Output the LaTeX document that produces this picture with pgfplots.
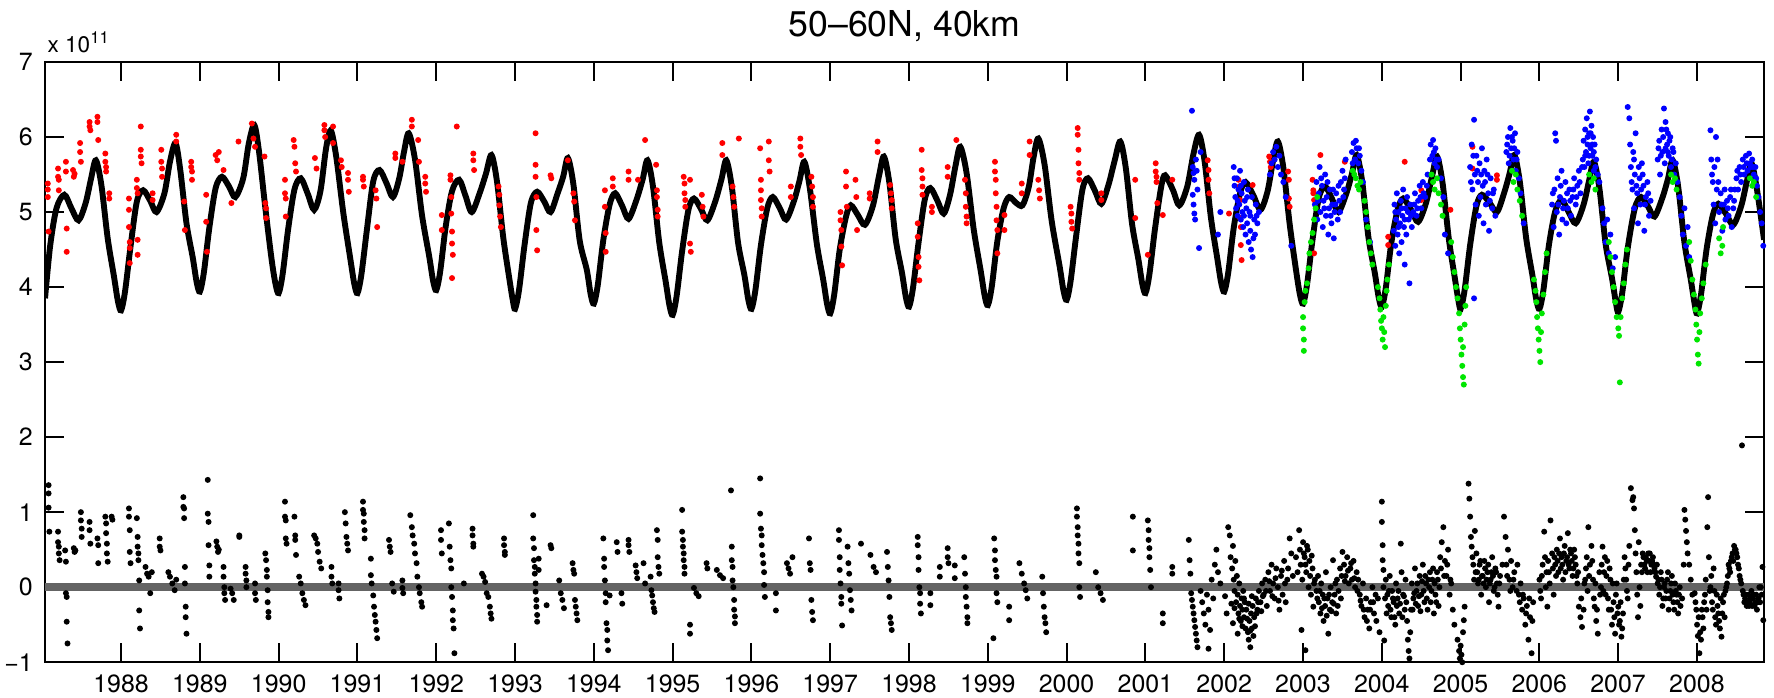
\documentclass[border=0pt]{standalone}
\usepackage{fontspec}
\setmainfont{TeX Gyre Heros}
\usepackage{pgfplots}
\pgfplotsset{compat=1.18}
\definecolor{zeroline}{RGB}{100,100,100}
\definecolor{mred}{RGB}{255,0,0}
\definecolor{mblue}{RGB}{0,0,255}
\definecolor{mgreen}{RGB}{0,230,0}
\begin{document}
\begin{tikzpicture}
\begin{axis}[
    name=ax,
    scale only axis,
    width=17.44cm, height=6.09cm,
    xmin=1987.035, xmax=2008.85,
    ymin=-1, ymax=7,
    xtick={1988,1989,...,2008},
    ytick={-1,0,...,7},
    yticklabels={−1,0,1,2,3,4,5,6,7},
    /pgf/number format/assume math mode=true,
    /pgf/number format/1000 sep={},
    tick align=inside, tick pos=both,
    major tick length=0.19cm,
    axis line style={line width=0.6pt},
    every tick/.style={black, line width=0.6pt},
    tick label style={font=\fontsize{7.2}{8.5}\selectfont},
]

% red points
\addplot[only marks, mark=*, mark size=0.65pt, mred] coordinates {
(1987.07,5.38)(1987.07,5.30)(1987.07,5.20)(1987.08,4.74)
(1987.20,5.58)(1987.20,5.47)(1987.21,5.43)(1987.21,5.29)
(1987.30,5.67)(1987.30,5.54)(1987.31,4.78)(1987.31,4.47)
(1987.39,5.56)(1987.40,5.47)(1987.41,5.51)
(1987.48,5.92)(1987.48,5.80)(1987.49,5.67)
(1987.60,6.20)(1987.60,6.14)(1987.61,6.09)
(1987.70,6.27)(1987.70,6.20)(1987.71,5.96)
(1987.80,5.78)(1987.80,5.67)(1987.81,5.60)(1987.81,5.54)
(1987.85,5.25)(1987.85,5.18)
(1988.10,5.18)(1988.10,5.03)(1988.10,4.80)(1988.11,4.60)(1988.11,4.52)(1988.11,4.32)
(1988.20,5.43)(1988.20,5.32)(1988.21,5.25)(1988.21,4.63)(1988.21,4.43)
(1988.25,6.14)(1988.25,5.83)(1988.25,5.74)(1988.26,5.65)
(1988.40,5.25)(1988.40,5.16)
(1988.51,5.83)(1988.51,5.67)(1988.52,5.58)(1988.52,5.47)
(1988.70,6.03)(1988.70,5.94)
(1988.80,5.14)(1988.81,4.76)
(1988.89,5.67)(1988.89,5.60)(1988.90,5.54)(1988.90,5.43)
(1989.08,5.23)(1989.08,4.87)(1989.09,4.47)
(1989.20,5.76)(1989.22,5.69)(1989.24,5.80)
(1989.30,5.56)(1989.40,5.12)(1989.49,5.94)
(1989.66,6.18)(1989.68,5.98)(1989.70,5.87)
(1989.82,5.74)(1989.83,5.12)(1989.84,5.05)(1989.84,4.92)
(1990.08,5.43)(1990.08,5.25)(1990.09,5.18)(1990.09,4.94)
(1990.19,5.96)(1990.20,5.87)(1990.21,5.65)(1990.22,5.54)
(1990.46,5.72)(1990.48,5.58)
(1990.58,6.16)(1990.58,6.09)(1990.59,6.00)
(1990.69,6.14)(1990.69,5.92)
(1990.79,5.69)(1990.80,5.60)
(1990.88,5.52)(1990.88,5.43)(1990.89,5.27)
(1991.07,5.47)(1991.07,5.43)(1991.08,5.34)
(1991.23,5.29)(1991.24,5.18)(1991.25,4.80)
(1991.48,5.78)(1991.48,5.72)(1991.57,5.67)
(1991.69,6.23)(1991.69,6.14)
(1991.77,5.96)(1991.78,5.67)
(1991.86,5.47)(1991.86,5.38)(1991.87,5.27)
(1992.07,4.96)(1992.07,4.76)
(1992.18,5.49)(1992.18,5.43)(1992.19,5.20)(1992.19,4.98)(1992.20,4.74)(1992.20,4.58)(1992.21,4.43)(1992.20,4.12)
(1992.26,6.14)
(1992.47,5.78)(1992.47,5.69)(1992.48,5.56)
(1992.79,5.34)(1992.80,5.23)(1992.80,5.09)(1992.81,4.94)(1992.82,4.80)
(1993.26,6.05)(1993.26,5.63)(1993.26,5.47)(1993.27,5.20)(1993.27,4.76)(1993.28,4.49)
(1993.45,5.49)(1993.46,5.45)
(1993.67,5.69)
(1993.74,5.25)(1993.75,5.14)(1993.76,4.89)
(1994.14,5.29)(1994.14,5.07)(1994.15,4.72)(1994.15,4.47)
(1994.24,5.45)(1994.24,5.34)
(1994.44,5.54)(1994.44,5.43)(1994.56,5.43)(1994.65,5.96)
(1994.79,5.63)(1994.80,5.29)(1994.80,5.20)(1994.81,5.03)(1994.81,4.94)
(1995.14,5.47)(1995.15,5.38)(1995.15,5.25)(1995.16,5.16)(1995.16,5.07)
(1995.22,5.43)(1995.22,4.58)(1995.23,4.47)
(1995.37,5.23)(1995.38,5.07)(1995.39,4.94)
(1995.63,5.92)(1995.63,5.76)
(1995.76,5.34)(1995.77,5.20)(1995.78,5.07)
(1995.84,5.98)
(1996.11,5.85)(1996.12,5.43)(1996.12,5.29)(1996.12,5.16)(1996.13,5.05)(1996.13,4.94)
(1996.22,5.94)(1996.22,5.69)(1996.23,5.54)
(1996.50,5.34)(1996.50,5.20)
(1996.62,5.98)(1996.62,5.87)(1996.63,5.76)
(1996.76,5.47)(1996.77,5.34)(1996.78,5.20)(1996.78,5.07)
(1997.13,5.00)(1997.13,4.89)(1997.14,4.76)(1997.14,4.54)(1997.15,4.29)
(1997.20,5.54)(1997.20,5.34)(1997.21,5.07)
(1997.32,5.43)(1997.33,5.20)(1997.34,4.76)
(1997.50,5.25)(1997.50,5.18)
(1997.60,5.94)(1997.60,5.80)
(1997.76,5.36)(1997.77,5.25)(1997.78,5.16)(1997.78,5.05)
(1998.11,4.85)(1998.11,4.67)(1998.12,4.40)(1998.12,4.27)(1998.13,4.09)
(1998.16,5.83)(1998.16,5.56)(1998.17,5.45)(1998.17,5.34)(1998.17,5.23)
(1998.29,5.07)(1998.29,5.00)
(1998.49,5.60)(1998.49,5.47)
(1998.60,5.96)
(1998.71,5.43)(1998.72,5.25)(1998.72,5.07)(1998.73,4.94)(1998.73,4.85)
(1999.09,5.67)(1999.09,5.54)(1999.10,5.43)(1999.10,5.25)(1999.11,5.07)(1999.11,4.89)(1999.12,4.76)(1999.12,4.45)
(1999.21,4.96)(1999.21,4.76)
(1999.43,5.38)(1999.43,5.25)
(1999.53,5.94)(1999.53,5.76)
(1999.64,5.43)(1999.65,5.29)(1999.66,5.18)
(2000.05,5.07)(2000.06,4.98)(2000.06,4.87)(2000.07,4.78)
(2000.14,6.12)(2000.14,6.03)(2000.15,5.83)(2000.15,5.65)(2000.16,5.52)(2000.16,5.43)
(2000.44,5.25)(2000.44,5.16)
(2000.87,5.43)(2000.87,4.92)
(2001.03,4.43)
(2001.13,5.65)(2001.13,5.54)(2001.14,5.47)(2001.14,5.40)(2001.15,5.12)
(2001.22,4.96)(2001.34,5.43)
(2001.79,5.69)(2001.80,5.56)(2001.80,5.43)(2001.81,5.25)
(2002.06,4.98)
(2002.18,5.43)(2002.19,5.34)(2002.20,5.16)(2002.20,4.92)(2002.21,4.80)(2002.21,4.56)(2002.22,4.36)
(2002.36,5.36)
(2002.57,5.74)(2002.58,5.67)(2002.59,5.60)
(2002.81,5.54)(2002.82,5.43)(2002.82,5.18)(2002.83,5.07)
(2003.12,5.43)(2003.13,5.29)(2003.13,5.25)(2003.14,5.16)(2003.14,4.45)
(2003.22,5.76)
(2003.53,5.67)
(2004.08,4.67)(2004.08,4.56)
(2004.29,5.67)
(2004.50,5.29)(2004.50,5.16)
(2004.87,5.03)
(2005.15,5.87)(2005.15,5.58)
(2005.46,5.49)(2005.46,5.43)
};

% blue points
\addplot[only marks, mark=*, mark size=0.65pt, mblue] coordinates {
(2001.59,6.35)(2001.60,5.60)(2001.61,5.52)(2001.62,5.43)(2001.60,5.23)(2001.61,5.10)(2001.62,4.98)(2001.63,4.90)(2001.64,5.70)(2001.65,5.55)(2001.66,5.30)(2001.68,4.52)(2001.70,5.80)
(2001.92,4.70)(2001.95,5.00)
(2002.12,5.60)(2002.13,5.35)(2002.14,5.20)(2002.15,5.05)(2002.16,5.45)(2002.17,4.95)(2002.18,5.30)(2002.19,5.10)(2002.20,5.55)(2002.21,4.90)(2002.22,5.25)(2002.23,5.00)(2002.24,4.80)(2002.25,5.40)(2002.26,5.15)(2002.27,4.70)(2002.28,5.05)(2002.29,4.85)(2002.30,5.30)(2002.31,4.60)(2002.32,5.00)(2002.33,4.75)(2002.34,4.50)(2002.35,5.20)(2002.36,4.40)(2002.37,4.65)(2002.38,4.90)(2002.40,5.10)(2002.42,4.85)(2002.44,5.00)
(2002.58,5.50)(2002.60,5.65)(2002.62,5.80)(2002.64,5.70)(2002.66,5.87)(2002.68,5.60)(2002.70,5.75)(2002.72,5.50)(2002.75,5.40)(2002.78,5.20)(2002.85,4.55)
(2003.15,5.10)(2003.17,5.40)(2003.18,4.90)(2003.20,5.25)(2003.21,5.60)(2003.22,5.00)(2003.24,5.35)(2003.25,4.80)(2003.26,5.15)(2003.28,5.50)(2003.29,4.95)(2003.30,5.20)(2003.32,4.70)(2003.33,5.05)(2003.34,5.30)(2003.36,4.85)(2003.37,5.10)(2003.39,4.65)(2003.40,5.00)(2003.42,5.25)(2003.44,4.90)(2003.46,5.15)(2003.48,5.40)(2003.50,5.55)(2003.52,5.30)(2003.54,5.70)
(2003.62,5.80)(2003.64,5.92)(2003.66,5.70)(2003.68,5.85)(2003.70,5.65)(2003.72,5.75)(2003.74,5.55)(2003.76,5.40)(2003.80,4.90)(2003.85,4.60)
(2004.15,4.75)(2004.16,5.10)(2004.17,4.55)(2004.18,4.90)(2004.19,5.25)(2004.20,4.70)(2004.21,5.00)(2004.22,4.45)(2004.23,4.85)(2004.24,5.15)(2004.25,4.60)(2004.26,4.95)(2004.27,5.30)(2004.28,4.80)(2004.29,4.30)(2004.30,5.05)(2004.31,4.70)(2004.32,5.20)(2004.34,4.90)(2004.35,4.05)(2004.36,5.10)(2004.38,4.80)(2004.40,5.00)(2004.42,5.25)(2004.44,4.95)(2004.46,5.15)(2004.48,5.35)(2004.50,5.05)(2004.52,5.40)(2004.55,5.20)(2004.58,5.50)
(2004.62,5.90)(2004.64,5.75)(2004.65,5.96)(2004.67,5.65)(2004.68,5.85)(2004.70,5.60)(2004.72,5.70)(2004.75,5.45)(2004.78,5.20)(2004.80,4.70)(2004.84,4.45)
(2005.12,5.60)(2005.14,5.90)(2005.15,5.30)(2005.17,6.23)(2005.18,5.50)(2005.19,5.10)(2005.20,5.75)(2005.22,5.40)(2005.23,4.95)(2005.24,5.65)(2005.25,5.20)(2005.27,5.85)(2005.28,5.35)(2005.29,4.85)(2005.30,5.55)(2005.32,5.10)(2005.33,5.70)(2005.35,5.25)(2005.36,4.75)(2005.38,5.45)(2005.40,5.05)(2005.42,5.30)(2005.44,4.95)(2005.17,3.85)
(2005.58,5.80)(2005.60,6.00)(2005.61,5.65)(2005.63,6.12)(2005.64,5.85)(2005.66,5.95)(2005.67,5.70)(2005.69,6.05)(2005.70,5.55)(2005.72,5.80)(2005.74,5.45)(2005.76,5.25)(2005.80,4.85)
(2006.16,5.10)(2006.18,4.80)(2006.19,5.30)(2006.20,6.05)(2006.21,5.95)(2006.22,5.00)(2006.23,5.45)(2006.25,4.70)(2006.26,5.20)(2006.28,5.55)(2006.29,4.90)(2006.31,5.15)(2006.33,5.40)(2006.34,4.85)(2006.36,5.05)(2006.38,5.30)(2006.40,4.95)(2006.42,5.20)(2006.44,5.45)(2006.46,5.10)(2006.48,5.35)(2006.50,5.55)(2006.52,5.25)
(2006.55,5.70)(2006.56,5.95)(2006.57,5.60)(2006.58,6.10)(2006.59,5.80)(2006.60,6.25)(2006.61,5.90)(2006.62,5.65)(2006.63,6.05)(2006.64,6.34)(2006.65,5.85)(2006.66,6.15)(2006.67,5.75)(2006.68,6.00)(2006.69,5.55)(2006.70,5.90)(2006.72,5.70)(2006.74,5.50)(2006.76,5.40)
(2006.80,5.05)(2006.82,4.85)(2006.84,4.60)(2006.86,4.90)(2006.88,4.45)(2006.90,4.70)(2006.93,4.25)(2006.96,4.40)
(2007.12,6.40)(2007.14,6.25)(2007.15,5.90)(2007.16,5.60)(2007.18,5.30)(2007.19,5.80)(2007.20,5.05)(2007.21,5.50)(2007.22,6.05)(2007.24,5.25)(2007.25,4.85)(2007.27,5.45)(2007.28,5.10)(2007.30,5.65)(2007.32,5.35)(2007.33,4.75)(2007.35,5.20)(2007.37,5.40)(2007.39,4.95)(2007.41,5.15)
(2007.50,5.70)(2007.52,5.95)(2007.53,5.50)(2007.55,6.10)(2007.56,5.80)(2007.58,6.38)(2007.59,5.65)(2007.60,6.20)(2007.62,5.90)(2007.63,6.05)(2007.64,5.75)(2007.66,6.00)(2007.67,5.60)(2007.69,5.85)(2007.71,5.50)(2007.73,5.65)(2007.75,5.40)
(2007.78,5.20)(2007.80,4.95)(2007.82,4.70)(2007.84,5.05)(2007.86,4.55)(2007.88,4.80)(2007.90,4.40)
(2008.17,6.09)(2008.18,5.70)(2008.20,5.40)(2008.21,5.10)(2008.22,5.60)(2008.23,4.85)(2008.24,6.00)(2008.25,5.30)(2008.26,5.70)(2008.28,5.00)(2008.30,5.25)(2008.32,4.75)(2008.34,5.10)(2008.36,4.90)(2008.38,5.15)(2008.40,4.95)(2008.42,5.20)(2008.44,4.80)(2008.46,5.05)(2008.48,5.30)
(2008.50,5.45)(2008.52,5.30)(2008.54,5.60)(2008.56,5.40)(2008.58,5.70)(2008.60,5.50)(2008.62,5.75)(2008.64,5.55)(2008.66,5.78)(2008.68,5.60)(2008.70,5.70)(2008.72,5.50)(2008.74,5.60)(2008.76,5.35)(2008.78,5.20)(2008.80,5.00)(2008.82,4.85)(2008.84,4.55)
(2002.13,5.45)(2002.17,5.15)(2002.21,5.35)(2002.25,4.95)(2002.29,5.20)(2002.33,4.95)(2002.39,4.70)(2002.41,4.95)
(2003.19,5.15)(2003.23,5.45)(2003.27,5.05)(2003.31,5.40)(2003.35,4.95)(2003.38,5.30)(2003.41,5.10)(2003.45,5.35)(2003.47,5.00)(2003.51,5.20)(2003.53,5.45)(2003.63,5.65)(2003.67,5.95)(2003.71,5.85)
(2004.17,5.00)(2004.21,4.80)(2004.25,5.05)(2004.29,4.90)(2004.33,5.00)(2004.37,4.95)(2004.41,5.10)(2004.45,5.05)(2004.49,5.20)(2004.53,5.25)(2004.57,5.35)(2004.61,5.70)(2004.66,5.80)(2004.69,5.70)
(2005.13,5.40)(2005.16,5.75)(2005.21,5.55)(2005.26,5.50)(2005.31,5.40)(2005.34,5.50)(2005.37,5.15)(2005.41,5.25)(2005.59,5.90)(2005.62,5.75)(2005.65,6.00)(2005.68,5.85)(2005.71,5.70)
(2006.17,5.25)(2006.24,5.10)(2006.27,5.35)(2006.30,5.05)(2006.35,5.25)(2006.39,5.15)(2006.43,5.30)(2006.47,5.20)(2006.51,5.40)(2006.54,5.60)(2006.58,5.75)(2006.61,6.00)(2006.63,5.75)(2006.65,6.05)(2006.67,5.90)(2006.69,5.80)(2006.71,5.60)
(2007.17,5.40)(2007.20,5.70)(2007.23,5.35)(2007.26,5.60)(2007.29,5.30)(2007.31,5.50)(2007.34,5.10)(2007.38,5.25)(2007.51,5.85)(2007.54,5.75)(2007.57,6.00)(2007.60,5.85)(2007.61,6.10)(2007.63,5.80)(2007.65,5.95)(2007.68,5.70)(2007.70,5.80)
(2008.19,5.50)(2008.27,5.40)(2008.31,5.10)(2008.35,5.30)(2008.39,5.05)(2008.43,5.30)(2008.47,5.15)(2008.51,5.55)(2008.55,5.50)(2008.59,5.60)(2008.63,5.65)(2008.67,5.65)(2008.71,5.60)(2008.75,5.45)
};

% green points
\addplot[only marks, mark=*, mark size=0.65pt, mgreen] coordinates {
(2003.00,3.60)(2003.00,3.45)(2003.01,3.30)(2003.01,3.15)(2003.02,3.80)(2003.03,3.95)(2003.05,4.05)(2003.07,4.25)(2003.08,4.45)(2003.10,4.60)(2003.12,4.72)(2003.14,4.90)(2003.16,5.05)(2003.18,5.20)
(2003.63,5.55)(2003.65,5.50)(2003.67,5.45)(2003.69,5.35)(2003.71,5.30)(2003.73,5.40)
(2003.78,5.15)(2003.80,5.00)(2003.82,4.80)(2003.84,4.60)(2003.86,4.45)(2003.88,4.30)(2003.95,4.00)(2003.97,3.85)(2003.98,3.70)(2003.99,3.55)(2004.00,3.45)(2004.01,3.30)(2004.02,3.60)(2004.03,3.40)(2004.04,3.20)(2004.05,3.75)(2004.06,3.95)(2004.07,4.10)(2004.09,4.30)
(2004.63,5.50)(2004.65,5.40)(2004.67,5.30)(2004.70,5.45)(2004.72,5.25)(2004.75,5.10)(2004.77,4.95)
(2004.88,4.60)(2004.90,4.40)(2004.92,4.20)(2004.94,4.00)(2004.96,3.85)(2004.98,3.65)(2004.99,3.45)(2005.00,3.30)(2005.01,3.10)(2005.02,2.95)(2005.03,2.80)(2005.04,2.70)(2005.03,3.20)(2005.05,3.50)(2005.06,3.75)(2005.07,4.00)
(2005.65,5.55)(2005.67,5.40)(2005.70,5.50)(2005.72,5.30)(2005.75,5.15)(2005.78,4.95)
(2005.93,4.10)(2005.95,3.95)(2005.96,3.80)(2005.97,3.60)(2005.98,3.45)(2005.99,3.30)(2006.00,3.15)(2006.01,3.00)(2006.02,3.40)(2006.03,3.65)(2006.05,3.90)(2006.07,4.20)(2006.09,4.45)
(2006.63,5.50)(2006.66,5.40)(2006.69,5.45)(2006.71,5.30)
(2006.88,4.60)(2006.90,4.40)(2006.92,4.20)(2006.94,4.00)(2006.96,3.80)(2006.98,3.60)(2007.00,3.45)(2007.01,3.35)(2007.02,2.73)(2007.03,3.60)(2007.05,3.85)(2007.07,4.05)(2007.09,4.30)(2007.11,4.50)
(2007.67,5.50)(2007.69,5.40)(2007.72,5.45)(2007.74,5.30)
(2007.90,4.60)(2007.92,4.35)(2007.94,4.10)(2007.96,3.90)(2007.98,3.70)(2007.99,3.50)(2008.00,3.30)(2008.01,3.10)(2008.02,2.98)(2008.03,3.40)(2008.04,3.65)(2008.06,3.85)(2008.08,4.05)(2008.11,4.30)
(2008.28,4.65)(2008.30,4.45)(2008.32,4.55)(2008.33,4.80)
(2008.67,5.45)(2008.70,5.35)(2008.72,5.40)(2008.75,5.20)
};

% smoothed series
\addplot[black, line width=1.7pt, smooth, tension=0.5] coordinates {
(1987.035,3.85)(1987.10,4.55)(1987.18,5.05)(1987.28,5.23)(1987.37,5.05)(1987.46,4.89)(1987.55,5.12)(1987.62,5.45)(1987.68,5.69)(1987.75,5.36)(1987.83,4.65)(1987.91,4.14)(1987.96,3.81)
(1988.00,3.69)(1988.05,3.94)(1988.12,4.54)(1988.20,5.14)(1988.28,5.29)(1988.37,5.15)(1988.45,5.00)(1988.55,5.25)(1988.62,5.67)(1988.69,5.92)(1988.75,5.57)(1988.83,4.85)(1988.91,4.39)(1988.96,4.06)
(1989.00,3.94)(1989.05,4.19)(1989.12,4.79)(1989.20,5.32)(1989.28,5.47)(1989.37,5.34)(1989.45,5.20)(1989.55,5.45)(1989.62,5.91)(1989.69,6.16)(1989.75,5.81)(1989.83,5.06)(1989.91,4.37)(1989.96,4.04)
(1990.00,3.92)(1990.05,4.17)(1990.12,4.77)(1990.20,5.30)(1990.28,5.45)(1990.37,5.24)(1990.45,5.03)(1990.53,5.28)(1990.60,5.84)(1990.66,6.09)(1990.73,5.74)(1990.82,4.99)(1990.91,4.37)(1990.96,4.04)
(1991.00,3.92)(1991.05,4.17)(1991.12,4.77)(1991.20,5.41)(1991.28,5.56)(1991.37,5.38)(1991.45,5.20)(1991.53,5.45)(1991.59,5.80)(1991.65,6.05)(1991.73,5.70)(1991.82,4.95)(1991.91,4.41)(1991.96,4.08)
(1992.00,3.96)(1992.05,4.21)(1992.12,4.81)(1992.20,5.28)(1992.29,5.43)(1992.37,5.22)(1992.45,5.00)(1992.55,5.25)(1992.63,5.51)(1992.70,5.76)(1992.77,5.41)(1992.85,4.66)(1992.92,4.16)(1992.97,3.83)
(1993.00,3.71)(1993.05,3.96)(1993.12,4.56)(1993.20,5.12)(1993.28,5.27)(1993.37,5.14)(1993.45,5.00)(1993.54,5.25)(1993.61,5.47)(1993.67,5.72)(1993.74,5.37)(1993.82,4.62)(1993.91,4.23)(1993.96,3.90)
(1994.00,3.78)(1994.05,4.03)(1994.12,4.63)(1994.20,5.10)(1994.27,5.25)(1994.36,5.08)(1994.44,4.91)(1994.54,5.16)(1994.62,5.44)(1994.68,5.69)(1994.75,5.34)(1994.83,4.59)(1994.91,4.08)(1994.96,3.75)
(1995.00,3.63)(1995.05,3.88)(1995.12,4.48)(1995.20,5.03)(1995.27,5.18)(1995.36,5.04)(1995.44,4.89)(1995.54,5.14)(1995.62,5.44)(1995.68,5.69)(1995.75,5.34)(1995.83,4.59)(1995.91,4.16)(1995.96,3.83)
(1996.00,3.71)(1996.05,3.96)(1996.12,4.56)(1996.20,5.05)(1996.27,5.20)(1996.36,5.05)(1996.44,4.90)(1996.54,5.15)(1996.61,5.42)(1996.67,5.67)(1996.74,5.32)(1996.83,4.57)(1996.91,4.10)(1996.96,3.77)
(1997.00,3.65)(1997.05,3.90)(1997.12,4.50)(1997.20,4.94)(1997.26,5.09)(1997.35,4.96)(1997.44,4.83)(1997.54,5.08)(1997.62,5.49)(1997.68,5.74)(1997.75,5.39)(1997.83,4.64)(1997.91,4.19)(1997.96,3.86)
(1998.00,3.74)(1998.05,3.99)(1998.12,4.59)(1998.20,5.17)(1998.27,5.32)(1998.36,5.15)(1998.44,4.98)(1998.52,5.23)(1998.59,5.62)(1998.65,5.87)(1998.73,5.52)(1998.82,4.77)(1998.91,4.21)(1998.96,3.88)
(1999.00,3.76)(1999.05,4.01)(1999.12,4.61)(1999.20,5.05)(1999.27,5.20)(1999.36,5.12)(1999.44,5.09)(1999.52,5.34)(1999.58,5.73)(1999.64,5.98)(1999.72,5.63)(1999.81,4.88)(1999.91,4.28)(1999.96,3.95)
(2000.00,3.83)(2000.05,4.08)(2000.12,4.68)(2000.20,5.30)(2000.27,5.45)(2000.36,5.28)(2000.44,5.11)(2000.53,5.36)(2000.61,5.69)(2000.68,5.94)(2000.75,5.59)(2000.83,4.84)(2000.91,4.37)(2000.96,4.04)
(2001.00,3.92)(2001.05,4.17)(2001.12,4.77)(2001.20,5.34)(2001.25,5.49)(2001.35,5.29)(2001.43,5.09)(2001.53,5.34)(2001.61,5.78)(2001.68,6.03)(2001.75,5.68)(2001.83,4.93)(2001.91,4.39)(2001.96,4.06)
(2002.00,3.94)(2002.05,4.19)(2002.12,4.79)(2002.20,5.25)(2002.27,5.40)(2002.37,5.22)(2002.46,5.03)(2002.55,5.28)(2002.62,5.69)(2002.68,5.94)(2002.75,5.59)(2002.83,4.84)(2002.91,4.23)(2002.96,3.90)
(2003.00,3.78)(2003.05,4.03)(2003.12,4.63)(2003.20,5.19)(2003.28,5.34)(2003.37,5.17)(2003.45,5.00)(2003.55,5.25)(2003.62,5.51)(2003.68,5.76)(2003.75,5.41)(2003.83,4.66)(2003.91,4.19)(2003.96,3.86)
(2004.00,3.74)(2004.05,3.99)(2004.12,4.59)(2004.20,5.03)(2004.27,5.18)(2004.37,5.03)(2004.46,4.87)(2004.56,5.12)(2004.64,5.49)(2004.70,5.74)(2004.77,5.39)(2004.85,4.64)(2004.92,4.16)(2004.97,3.83)
(2005.00,3.71)(2005.05,3.96)(2005.12,4.56)(2005.20,5.08)(2005.27,5.23)(2005.37,5.12)(2005.46,5.00)(2005.55,5.25)(2005.62,5.51)(2005.68,5.76)(2005.75,5.41)(2005.83,4.66)(2005.91,4.16)(2005.96,3.83)
(2006.00,3.71)(2006.05,3.96)(2006.12,4.56)(2006.20,5.01)(2006.28,5.16)(2006.37,5.00)(2006.46,4.85)(2006.56,5.10)(2006.63,5.42)(2006.69,5.67)(2006.76,5.32)(2006.84,4.57)(2006.92,4.12)(2006.97,3.79)
(2007.00,3.67)(2007.05,3.92)(2007.12,4.52)(2007.21,5.05)(2007.29,5.20)(2007.38,5.07)(2007.46,4.94)(2007.56,5.19)(2007.63,5.44)(2007.69,5.69)(2007.76,5.34)(2007.84,4.59)(2007.92,4.10)(2007.97,3.77)
(2008.00,3.65)(2008.05,3.90)(2008.12,4.50)(2008.20,4.96)(2008.27,5.11)(2008.37,4.97)(2008.46,4.83)(2008.56,5.08)(2008.63,5.40)(2008.69,5.65)(2008.76,5.30)(2008.85,4.63)
};

% zero line
\addplot[zeroline, line width=2.3pt] coordinates {(1987.035,0) (2008.85,0)};

% residuals
\addplot[only marks, mark=*, mark size=0.65pt, black] coordinates {
(1987.08,1.36)(1987.08,1.25)(1987.08,1.06)(1987.09,0.74)
(1987.20,0.74)(1987.20,0.60)(1987.21,0.54)(1987.21,0.45)(1987.22,0.36)
(1987.29,0.49)(1987.30,0.34)(1987.30,-0.08)(1987.31,-0.13)(1987.31,-0.46)(1987.32,-0.75)
(1987.40,0.52)(1987.41,0.47)(1987.42,0.49)
(1987.49,1.00)(1987.49,0.89)(1987.50,0.78)(1987.50,0.67)
(1987.60,0.87)(1987.60,0.76)(1987.61,0.58)
(1987.70,0.65)(1987.71,0.56)(1987.71,0.32)
(1987.80,0.94)(1987.81,0.85)(1987.81,0.72)(1987.82,0.58)(1987.82,0.45)(1987.83,0.34)
(1987.88,0.94)(1987.89,0.90)
(1988.10,1.05)(1988.10,0.94)(1988.11,0.76)(1988.11,0.47)(1988.12,0.32)
(1988.20,0.92)(1988.21,0.67)(1988.21,0.54)(1988.22,0.45)(1988.22,0.36)(1988.23,0.09)(1988.23,-0.31)(1988.24,-0.55)
(1988.31,0.27)(1988.33,0.18)(1988.35,0.14)(1988.37,-0.08)(1988.39,0.20)
(1988.49,0.65)(1988.49,0.54)(1988.50,0.49)
(1988.60,0.20)(1988.62,0.14)(1988.65,0.05)(1988.68,-0.04)(1988.70,0.10)
(1988.79,1.20)(1988.79,1.07)(1988.80,1.05)(1988.80,0.92)(1988.81,0.27)(1988.81,0.05)(1988.82,-0.26)(1988.82,-0.40)(1988.83,-0.62)
(1989.10,1.43)(1989.10,0.98)(1989.11,0.87)(1989.11,0.56)(1989.12,0.29)(1989.12,0.14)
(1989.21,0.61)(1989.22,0.54)(1989.23,0.47)(1989.24,0.50)
(1989.30,0.27)(1989.30,0.14)(1989.31,0.00)(1989.31,-0.08)(1989.32,-0.17)
(1989.39,-0.02)(1989.41,-0.08)(1989.43,-0.17)
(1989.50,0.69)(1989.50,0.67)
(1989.58,0.27)(1989.58,0.18)(1989.59,0.09)(1989.59,0.00)
(1989.70,0.05)(1989.70,-0.08)(1989.71,-0.17)
(1989.83,0.45)(1989.84,0.36)(1989.85,0.23)(1989.85,0.14)(1989.86,-0.04)(1989.86,-0.20)(1989.87,-0.33)(1989.87,-0.40)
(1990.08,1.14)(1990.08,0.94)(1990.09,0.89)(1990.09,0.65)(1990.10,0.58)
(1990.20,0.94)(1990.21,0.69)(1990.21,0.63)(1990.22,0.43)
(1990.26,0.14)(1990.28,0.05)(1990.30,-0.08)(1990.32,-0.17)(1990.34,-0.24)
(1990.45,0.69)(1990.47,0.65)(1990.49,0.58)(1990.50,0.47)(1990.52,0.34)(1990.54,0.25)
(1990.67,0.27)(1990.67,0.14)(1990.68,0.05)
(1990.76,0.05)(1990.76,-0.04)(1990.77,-0.15)
(1990.84,1.00)(1990.85,0.85)(1990.86,0.67)(1990.87,0.58)(1990.88,0.49)
(1991.07,1.14)(1991.07,1.03)(1991.08,0.98)(1991.08,0.87)(1991.09,0.76)(1991.09,0.65)
(1991.17,0.38)(1991.17,0.16)(1991.18,0.05)
(1991.20,-0.11)(1991.21,-0.26)(1991.22,-0.37)(1991.23,-0.46)(1991.24,-0.57)(1991.25,-0.68)
(1991.40,0.63)(1991.41,0.54)(1991.42,0.47)(1991.44,0.05)(1991.46,-0.06)
(1991.57,0.09)(1991.57,-0.01)(1991.58,-0.08)
(1991.67,0.96)(1991.69,0.80)(1991.70,0.69)(1991.72,0.58)(1991.73,0.45)(1991.75,0.32)(1991.76,0.14)(1991.78,0.00)(1991.79,-0.08)(1991.81,-0.20)(1991.82,-0.26)
(1992.06,0.76)(1992.06,0.63)(1992.07,0.45)
(1992.16,0.85)(1992.17,0.54)(1992.18,0.36)(1992.19,0.25)(1992.19,0.00)(1992.20,-0.13)(1992.21,-0.31)(1992.21,-0.44)(1992.22,-0.55)(1992.23,-0.88)
(1992.35,0.05)
(1992.46,0.78)(1992.46,0.69)(1992.47,0.58)(1992.47,0.54)
(1992.58,0.18)(1992.60,0.14)(1992.62,0.07)(1992.64,-0.08)(1992.66,-0.13)(1992.68,-0.26)(1992.69,-0.35)(1992.70,-0.42)
(1992.86,0.65)(1992.86,0.56)(1992.87,0.47)(1992.87,0.43)
(1993.23,0.96)(1993.23,0.65)(1993.24,0.52)(1993.24,0.36)(1993.25,0.27)(1993.25,0.18)(1993.26,0.05)(1993.26,-0.06)(1993.27,-0.17)(1993.27,-0.26)(1993.28,-0.37)(1993.28,-0.46)
(1993.30,0.38)(1993.30,0.23)(1993.40,-0.24)
(1993.45,0.56)(1993.46,0.52)
(1993.56,0.09)(1993.58,-0.08)(1993.60,-0.17)(1993.62,-0.28)
(1993.73,0.32)(1993.74,0.23)(1993.75,0.18)(1993.76,-0.17)(1993.77,-0.26)(1993.78,-0.35)(1993.79,-0.44)
(1994.12,0.65)(1994.13,0.38)(1994.13,0.27)(1994.14,0.09)(1994.15,-0.08)(1994.15,-0.20)(1994.16,-0.48)(1994.17,-0.57)(1994.17,-0.71)(1994.18,-0.84)
(1994.20,-0.11)(1994.29,0.60)(1994.30,0.47)(1994.35,-0.08)(1994.36,-0.22)
(1994.44,0.63)(1994.44,0.56)(1994.45,0.47)
(1994.53,0.29)(1994.54,0.20)(1994.55,0.12)
(1994.63,0.32)(1994.65,0.05)
(1994.72,0.14)(1994.73,-0.04)(1994.74,-0.11)(1994.75,-0.20)(1994.76,-0.28)(1994.77,-0.33)
(1994.80,0.76)(1994.81,0.63)(1994.81,0.40)(1994.82,0.27)(1994.83,0.18)
(1995.12,1.03)(1995.12,0.74)(1995.13,0.63)(1995.13,0.54)(1995.14,0.45)(1995.14,0.36)(1995.15,0.27)(1995.15,0.18)
(1995.22,-0.50)(1995.22,-0.62)
(1995.27,-0.01)(1995.30,-0.08)(1995.33,-0.12)
(1995.43,0.32)(1995.44,0.25)
(1995.56,0.23)(1995.60,0.16)(1995.64,0.12)
(1995.74,1.29)(1995.75,0.54)(1995.75,0.36)(1995.76,0.27)(1995.76,0.09)(1995.77,0.00)(1995.78,-0.17)(1995.78,-0.30)(1995.79,-0.39)(1995.79,-0.48)
(1996.11,1.45)(1996.11,0.98)(1996.12,0.78)(1996.13,0.69)(1996.13,0.56)(1996.14,0.43)(1996.15,0.32)(1996.16,0.20)(1996.16,0.03)(1996.17,-0.13)
(1996.31,-0.08)(1996.31,-0.31)
(1996.45,0.32)(1996.47,0.25)(1996.49,0.18)(1996.52,0.40)
(1996.73,0.65)(1996.74,0.32)(1996.75,0.23)(1996.76,-0.17)(1996.77,-0.33)(1996.78,-0.44)
(1997.11,0.76)(1997.11,0.63)(1997.12,0.40)(1997.12,0.23)(1997.13,0.05)(1997.14,-0.13)(1997.14,-0.22)(1997.15,-0.51)
(1997.22,0.54)(1997.23,0.32)(1997.24,0.18)(1997.25,-0.04)(1997.26,-0.17)(1997.27,-0.31)
(1997.39,0.58)
(1997.51,0.43)(1997.55,0.27)(1997.58,0.20)
(1997.72,0.47)(1997.73,0.27)(1997.74,0.09)(1997.75,-0.13)(1997.76,-0.40)(1997.77,-0.48)(1997.78,-0.57)
(1998.11,0.67)(1998.11,0.56)(1998.12,0.40)(1998.12,0.23)(1998.13,0.00)(1998.14,-0.08)(1998.14,-0.22)(1998.15,-0.35)
(1998.27,-0.08)(1998.27,-0.24)
(1998.39,0.27)(1998.39,0.14)
(1998.49,0.52)(1998.49,0.40)(1998.50,0.32)
(1998.58,0.29)(1998.58,0.12)
(1998.70,0.40)(1998.71,0.18)(1998.72,0.00)(1998.72,-0.13)(1998.73,-0.26)(1998.74,-0.40)(1998.74,-0.48)
(1999.08,0.65)(1999.09,0.49)(1999.09,0.36)(1999.10,0.23)(1999.11,0.14)(1999.11,-0.08)(1999.12,-0.20)(1999.07,-0.68)
(1999.27,-0.26)(1999.27,-0.44)
(1999.40,0.32)(1999.43,0.18)(1999.46,0.05)(1999.48,-0.04)(1999.50,-0.15)
(1999.69,0.14)(1999.70,-0.08)(1999.71,-0.26)(1999.72,-0.40)(1999.73,-0.48)(1999.74,-0.60)
(2000.13,1.05)(2000.13,0.94)(2000.14,0.80)(2000.14,0.69)(2000.15,0.58)(2000.15,0.45)(2000.16,0.32)(2000.16,0.00)(2000.17,-0.13)
(2000.37,0.20)(2000.40,0.00)(2000.43,-0.08)(2000.46,-0.17)
(2000.84,0.94)(2000.84,0.49)
(2001.03,0.89)(2001.04,0.76)(2001.04,0.63)(2001.05,0.52)(2001.05,0.40)(2001.06,0.23)(2001.07,0.00)
(2001.22,-0.35)(2001.22,-0.48)
(2001.34,0.27)(2001.34,0.18)
(2001.55,0.63)(2001.56,0.36)(2001.57,0.18)(2001.58,-0.08)(2001.59,-0.17)(2001.60,-0.26)(2001.61,-0.35)(2001.62,-0.44)(2001.63,-0.53)(2001.64,-0.62)(2001.65,-0.71)(2001.66,-0.80)
(2001.70,-0.05)(2001.72,-0.20)(2001.74,-0.35)(2001.76,-0.50)(2001.78,-0.10)(2001.80,-0.30)(2001.82,-0.57)(2001.84,0.10)(2001.86,-0.15)(2001.88,0.30)(2001.90,0.50)(2001.92,0.20)(2001.80,-0.82)(2001.95,0.05)
(2002.05,0.80)(2002.07,0.69)(2002.08,0.40)(2002.10,0.25)(2002.11,0.55)(2002.12,0.10)(2002.13,-0.05)(2002.14,0.35)(2002.15,-0.20)(2002.16,0.15)(2002.17,-0.10)(2002.18,-0.35)(2002.19,0.05)(2002.20,-0.25)(2002.21,-0.45)(2002.22,-0.15)(2002.23,-0.30)(2002.24,-0.05)(2002.25,-0.40)(2002.26,-0.20)(2002.27,-0.55)(2002.28,-0.30)
(2002.30,-0.60)(2002.31,-0.70)(2002.32,-0.45)(2002.33,-0.80)(2002.34,-0.35)(2002.35,-0.55)(2002.36,-0.25)(2002.37,-0.65)(2002.38,-0.40)(2002.40,-0.15)(2002.42,-0.30)(2002.44,-0.05)(2002.46,-0.20)(2002.48,0.05)
(2002.50,-0.10)(2002.52,0.10)(2002.54,-0.25)(2002.56,0.20)(2002.58,-0.05)(2002.60,0.30)(2002.62,0.05)(2002.64,-0.15)(2002.66,0.25)(2002.68,0.00)(2002.70,-0.30)(2002.72,0.15)(2002.74,-0.10)(2002.76,0.35)(2002.78,-0.20)(2002.80,0.10)(2002.83,0.65)(2002.85,0.45)
(2002.95,0.76)(2002.96,0.50)(2002.97,0.30)(2002.98,-0.57)(2002.99,0.10)(2003.00,0.60)(2003.02,0.40)(2003.03,-0.84)(2003.04,0.20)(2003.05,0.55)(2003.07,0.00)(2003.08,0.35)(2003.10,-0.10)(2003.12,0.25)(2003.13,-0.26)(2003.15,0.10)(2003.17,-0.05)(2003.19,0.15)
(2003.20,-0.20)(2003.22,-0.35)(2003.23,0.05)(2003.25,-0.10)(2003.26,-0.45)(2003.28,-0.25)(2003.29,0.20)(2003.31,-0.15)(2003.32,-0.62)(2003.34,-0.30)(2003.35,0.00)(2003.37,-0.20)(2003.38,0.36)(2003.40,-0.10)(2003.42,-0.35)(2003.43,0.10)(2003.45,-0.05)(2003.47,0.25)(2003.48,-0.15)
(2003.50,0.47)(2003.52,0.30)(2003.54,0.15)(2003.56,0.40)(2003.58,0.05)(2003.60,0.25)(2003.62,0.10)(2003.64,0.35)(2003.66,0.00)(2003.68,0.20)
(2003.70,0.10)(2003.72,-0.10)(2003.74,-0.25)(2003.76,0.05)(2003.78,-0.40)(2003.80,-0.15)(2003.82,-0.30)(2003.84,-0.55)(2003.86,-0.20)(2003.88,0.00)(2003.90,-0.35)(2003.92,-0.10)
(2004.00,1.14)(2004.00,0.87)(2004.01,0.56)(2004.01,0.36)(2004.02,0.23)(2004.02,0.00)(2004.03,-0.71)(2003.97,-0.60)
(2004.05,0.10)(2004.07,-0.10)(2004.08,-0.25)(2004.10,0.15)(2004.12,-0.40)(2004.13,-0.05)(2004.15,-0.20)(2004.17,-0.50)(2004.18,0.05)(2004.20,-0.15)(2004.22,-0.35)(2004.24,0.58)(2004.25,0.20)(2004.27,-0.10)(2004.29,-0.30)
(2004.30,0.10)(2004.31,-0.20)(2004.32,-0.45)(2004.33,-0.70)(2004.34,-0.85)(2004.35,-0.95)(2004.36,-0.60)(2004.37,-0.30)(2004.38,0.05)(2004.40,-0.15)(2004.42,0.25)(2004.44,-0.05)(2004.46,-0.25)(2004.48,0.15)(2004.50,-0.10)(2004.52,0.30)(2004.54,-0.20)(2004.56,0.05)(2004.58,-0.30)
(2004.60,0.00)(2004.62,-0.20)(2004.64,0.10)(2004.66,-0.35)(2004.68,-0.10)(2004.70,0.20)(2004.72,-0.25)(2004.74,0.40)(2004.76,0.60)(2004.78,0.80)(2004.80,0.35)(2004.82,0.15)(2004.84,0.50)(2004.86,-0.10)(2004.88,0.05)(2004.90,-0.30)(2004.92,-0.50)
(2004.96,-0.70)(2004.98,-0.85)(2004.99,-0.95)(2005.00,-0.78)(2005.01,-0.90)(2005.02,-1.00)(2005.03,-0.60)(2005.04,-0.44)(2005.05,-0.26)
(2005.10,1.38)(2005.11,1.18)(2005.12,0.94)(2005.13,0.67)(2005.14,0.54)(2005.15,0.40)(2005.16,0.30)(2005.17,0.10)(2005.18,0.75)(2005.19,0.20)
(2005.20,0.45)(2005.22,0.05)(2005.24,0.30)(2005.26,-0.10)(2005.28,0.15)(2005.30,0.35)(2005.32,0.00)(2005.34,0.20)(2005.36,-0.20)(2005.38,0.10)(2005.40,0.40)(2005.42,-0.05)(2005.44,0.25)(2005.46,0.05)(2005.48,-0.26)(2005.50,0.15)
(2005.55,0.94)(2005.57,0.67)(2005.58,0.30)(2005.60,0.50)(2005.62,0.10)(2005.64,0.35)(2005.66,0.00)(2005.68,0.20)
(2005.72,0.30)(2005.74,-0.10)(2005.76,0.05)(2005.78,-0.30)(2005.80,-0.15)(2005.82,-0.50)(2005.84,-0.25)(2005.86,-0.70)(2005.88,-0.40)(2005.90,-0.88)(2005.92,-0.20)
(2006.00,0.10)(2006.02,-0.15)(2006.04,0.30)(2006.06,0.74)(2006.08,0.00)(2006.10,-0.26)(2006.12,0.20)(2006.14,0.89)(2006.16,0.45)(2006.18,-0.10)
(2006.20,0.30)(2006.22,0.50)(2006.24,0.20)(2006.26,0.65)(2006.28,0.40)(2006.30,0.10)(2006.32,0.55)(2006.34,0.35)(2006.36,0.72)(2006.38,0.25)(2006.40,0.45)(2006.42,0.15)(2006.44,0.50)(2006.46,0.30)(2006.48,0.05)
(2006.50,-0.26)(2006.52,-0.40)(2006.54,-0.53)(2006.56,-0.30)(2006.58,0.10)(2006.60,0.40)(2006.62,0.80)(2006.64,0.30)(2006.66,0.55)(2006.68,0.10)(2006.70,-0.26)(2006.72,-0.45)(2006.74,-0.62)(2006.76,0.20)(2006.78,0.00)
(2006.80,0.54)(2006.82,0.20)(2006.84,-0.10)(2006.86,0.35)(2006.88,-0.30)(2006.90,0.10)(2006.92,-0.50)(2006.94,-0.20)(2006.96,-0.62)(2006.98,0.05)
(2007.00,-0.26)(2007.02,-0.45)(2007.04,-0.66)(2007.06,-0.35)(2007.08,0.40)(2007.10,0.10)(2007.12,-0.15)(2007.14,0.55)
(2007.16,1.32)(2007.18,1.16)(2007.19,1.20)(2007.20,1.05)(2007.21,0.76)(2007.22,0.45)(2007.23,0.20)(2007.24,-0.10)(2007.25,-0.40)(2007.26,0.60)(2007.27,0.00)(2007.28,-0.25)(2007.29,0.30)
(2007.31,0.45)(2007.33,0.30)(2007.35,0.40)(2007.37,0.20)(2007.39,0.35)(2007.40,0.45)(2007.42,0.30)(2007.44,0.40)(2007.46,0.25)(2007.48,0.14)
(2007.50,0.05)(2007.52,-0.10)(2007.54,0.20)(2007.56,-0.25)(2007.58,0.00)(2007.60,-0.15)(2007.62,0.10)(2007.64,-0.30)(2007.66,-0.05)(2007.68,0.15)(2007.70,-0.20)(2007.72,0.05)(2007.74,-0.10)(2007.76,-0.35)(2007.78,0.00)
(2007.84,1.03)(2007.85,0.90)(2007.86,0.75)(2007.87,0.60)(2007.88,0.45)(2007.90,0.30)(2007.92,0.10)(2007.94,-0.10)
(2007.97,-0.08)(2007.99,-0.30)(2008.00,-0.50)(2008.01,-0.65)(2008.03,-0.88)(2008.05,-0.70)(2008.07,-0.40)(2008.09,-0.20)
(2008.11,0.10)(2008.13,0.80)(2008.14,1.20)(2008.15,0.40)(2008.17,0.00)(2008.19,-0.20)(2008.21,0.25)(2008.23,-0.40)
(2008.25,-0.10)(2008.27,-0.35)(2008.29,-0.55)(2008.31,-0.66)(2008.33,-0.20)(2008.35,-0.40)
(2008.37,0.00)(2008.39,0.15)(2008.41,0.25)(2008.43,0.35)(2008.45,0.45)(2008.47,0.55)(2008.49,0.50)(2008.51,0.40)
(2008.53,0.25)(2008.55,0.10)(2008.57,1.89)(2008.59,-0.10)(2008.61,-0.15)(2008.63,-0.25)(2008.65,-0.10)(2008.67,-0.20)(2008.69,-0.05)(2008.71,-0.15)(2008.73,-0.25)(2008.75,-0.10)(2008.77,-0.20)(2008.79,0.00)(2008.81,0.00)(2008.83,0.27)(2008.84,-0.44)
(2002.01,-0.12)(2002.03,-0.35)(2002.09,-0.22)(2002.11,-0.48)(2002.13,-0.28)(2002.17,-0.62)(2002.19,-0.42)(2002.23,-0.52)(2002.25,-0.15)(2002.29,-0.42)(2002.31,-0.22)(2002.33,-0.58)(2002.35,-0.12)(2002.39,-0.52)(2002.41,-0.35)(2002.43,-0.20)(2002.47,-0.32)(2002.49,-0.12)(2002.53,-0.05)(2002.57,0.08)(2002.61,-0.12)(2002.65,0.12)(2002.69,-0.18)(2002.73,0.22)(2002.77,0.05)(2002.81,0.25)(2002.87,0.15)(2002.91,0.40)(2002.93,0.20)
(2003.01,0.45)(2003.03,0.30)(2003.06,0.50)(2003.09,0.15)(2003.11,0.42)(2003.14,0.05)(2003.18,-0.15)(2003.21,-0.05)(2003.24,-0.28)(2003.27,-0.15)(2003.30,-0.38)(2003.33,-0.10)(2003.36,-0.32)(2003.39,-0.22)(2003.41,0.05)(2003.44,-0.25)(2003.49,0.15)(2003.53,0.08)(2003.57,0.22)(2003.61,0.32)(2003.65,0.12)(2003.69,-0.05)(2003.73,-0.18)(2003.77,-0.30)(2003.81,-0.45)(2003.85,-0.30)(2003.89,-0.20)(2003.93,-0.45)(2003.95,-0.15)
(2004.04,-0.15)(2004.06,-0.35)(2004.09,-0.05)(2004.11,-0.30)(2004.14,-0.15)(2004.16,-0.40)(2004.19,-0.25)(2004.21,-0.05)(2004.23,-0.22)(2004.26,-0.40)(2004.28,-0.12)(2004.39,-0.30)(2004.41,-0.08)(2004.43,-0.22)(2004.45,0.05)(2004.47,-0.12)(2004.49,-0.32)(2004.51,0.08)(2004.53,-0.05)(2004.55,0.15)(2004.57,-0.15)(2004.59,0.10)(2004.61,0.20)(2004.63,-0.05)(2004.65,0.25)(2004.67,0.05)(2004.69,-0.20)(2004.71,0.10)(2004.73,0.00)(2004.75,0.25)(2004.79,0.15)(2004.83,0.30)(2004.87,0.10)
(2005.21,0.20)(2005.23,0.10)(2005.25,0.35)(2005.27,0.15)(2005.29,0.05)(2005.31,0.25)(2005.33,0.10)(2005.35,0.30)(2005.37,0.05)(2005.39,0.20)(2005.41,0.15)(2005.43,0.00)(2005.45,0.20)(2005.47,-0.10)(2005.49,0.05)(2005.53,0.30)(2005.59,0.15)(2005.63,-0.05)(2005.67,0.10)(2005.71,-0.05)(2005.75,-0.20)(2005.79,-0.10)(2005.83,-0.35)(2005.87,-0.15)(2005.91,-0.45)
(2006.01,-0.05)(2006.03,0.15)(2006.07,0.40)(2006.09,0.20)(2006.11,0.35)(2006.13,0.05)(2006.17,0.25)(2006.19,0.40)(2006.21,0.15)(2006.23,0.35)(2006.25,0.45)(2006.27,0.25)(2006.29,0.30)(2006.31,0.45)(2006.33,0.20)(2006.35,0.40)(2006.37,0.30)(2006.39,0.50)(2006.41,0.35)(2006.43,0.25)(2006.45,0.40)(2006.47,0.15)(2006.49,0.20)
(2006.53,-0.15)(2006.57,0.05)(2006.59,0.25)(2006.61,-0.05)(2006.63,0.15)(2006.67,0.35)(2006.69,-0.15)(2006.71,0.05)(2006.73,-0.30)(2006.77,-0.10)(2006.79,0.30)(2006.81,-0.05)(2006.83,0.40)(2006.85,0.15)(2006.87,-0.15)(2006.89,0.25)(2006.91,-0.30)(2006.93,0.05)(2006.95,-0.40)(2006.97,-0.10)(2006.99,-0.35)
(2007.01,-0.50)(2007.03,-0.20)(2007.05,-0.55)(2007.07,0.10)(2007.09,0.25)(2007.11,-0.05)(2007.13,0.30)(2007.30,0.20)(2007.32,0.40)(2007.34,0.25)(2007.36,0.35)(2007.38,0.45)(2007.41,0.20)(2007.43,0.35)(2007.45,0.30)(2007.47,0.20)(2007.49,0.30)(2007.51,0.10)(2007.53,0.00)(2007.55,0.10)(2007.57,-0.15)(2007.59,0.05)(2007.61,-0.05)(2007.63,0.20)(2007.65,-0.15)(2007.67,0.05)(2007.69,-0.10)(2007.71,-0.30)(2007.73,-0.05)(2007.75,-0.20)(2007.77,-0.10)(2007.79,-0.25)(2007.81,-0.15)(2007.83,0.30)
(2007.98,-0.20)(2008.02,-0.40)(2008.04,-0.60)(2008.06,-0.30)(2008.08,-0.55)(2008.10,-0.10)(2008.12,-0.30)(2008.16,-0.05)(2008.18,0.15)(2008.20,-0.30)(2008.22,-0.05)(2008.24,-0.50)(2008.26,-0.25)(2008.28,-0.45)(2008.30,-0.15)(2008.32,-0.35)(2008.34,-0.10)(2008.36,-0.05)(2008.38,0.05)(2008.40,0.30)(2008.42,0.20)(2008.44,0.40)(2008.46,0.35)(2008.48,0.50)(2008.50,0.45)(2008.52,0.30)(2008.54,0.15)(2008.56,0.05)(2008.58,-0.05)(2008.60,-0.20)(2008.62,-0.10)(2008.64,-0.20)(2008.66,-0.25)(2008.68,-0.15)(2008.70,-0.25)(2008.72,-0.10)(2008.74,-0.20)(2008.76,-0.30)(2008.78,-0.15)(2008.80,-0.20)(2008.82,-0.10)
};
\end{axis}
\node[font=\fontsize{10.3}{12}\selectfont] at ([yshift=0.36cm]ax.north) {50–60N, 40km};
\node[anchor=base west, inner sep=0pt, font=\fontsize{6.5}{7}\selectfont] at ([xshift=0.02cm,yshift=0.1cm]ax.north west) {x 10\raisebox{0.7ex}{\fontsize{4.8}{5}\selectfont 11}};
\pgfresetboundingbox
\path[use as bounding box] ([shift={(-0.457cm,-0.355cm)}]ax.south west) rectangle ([shift={(0.101cm,0.629cm)}]ax.north east);
\end{tikzpicture}
\end{document}
